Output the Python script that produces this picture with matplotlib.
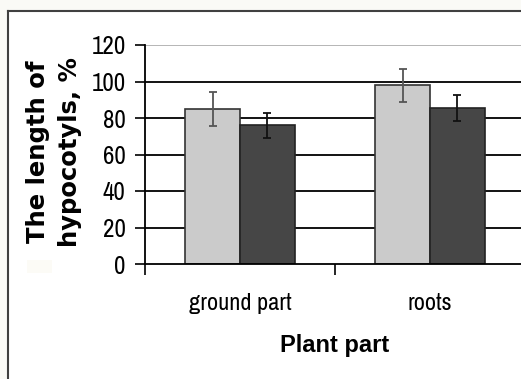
import matplotlib
matplotlib.use("Agg")
import matplotlib.pyplot as plt
from matplotlib.patches import Rectangle
from matplotlib.lines import Line2D
import numpy as np

categories = ["ground part", "roots"]
light_values = [85, 98]
light_err = [9.5, 9]
dark_values = [76, 85.5]
dark_err = [7, 7]
y_ticks = [0, 20, 40, 60, 80, 100, 120]

W, H = 521, 379
fig = plt.figure(figsize=(W / 100, H / 100), dpi=100)
fig.patch.set_facecolor("#fafaf6")


def fx(px):
    return px / W


def fy(py):
    # pixel row from the top -> figure fraction
    return 1 - py / H


# white panel with a dark frame (cropped at the right and bottom)
fig.add_artist(Rectangle((fx(8), 0), 1, fy(11), transform=fig.transFigure,
                         facecolor="white", edgecolor="none", zorder=0))
fig.add_artist(Rectangle((fx(27), fy(273)), fx(25), 13 / H, transform=fig.transFigure,
                         facecolor="#fcfbf6", edgecolor="none", zorder=0))
fig.add_artist(Line2D([fx(8), fx(8)], [0, fy(11)], transform=fig.transFigure,
                      color="#404040", lw=1.5))
fig.add_artist(Line2D([fx(8), 1], [fy(11), fy(11)], transform=fig.transFigure,
                      color="#404040", lw=1.5))

ax = fig.add_axes([fx(145), fy(264), 376 / W, 219 / H])
ax.set_facecolor("none")

narrow = ["Archivo Narrow", "Liberation Sans", "DejaVu Sans"]

x = np.arange(len(categories))
bw = 0.289
ax.bar(x - bw / 2, light_values, bw, color="#cbcbcb", edgecolor="#333333", lw=1.2, zorder=3)
ax.bar(x + bw / 2, dark_values, bw, color="#464646", edgecolor="#222222", lw=1.2, zorder=3)
ax.errorbar(x - bw / 2, light_values, yerr=light_err, fmt="none", ecolor="#555555",
            elinewidth=1.3, capsize=2.7, capthick=1.3, zorder=4)
ax.errorbar(x + bw / 2, dark_values, yerr=dark_err, fmt="none", ecolor="#111111",
            elinewidth=1.3, capsize=2.7, capthick=1.3, zorder=4)

for t in y_ticks[1:-1]:
    ax.axhline(t, color="black", lw=1.3, zorder=1)
ax.axhline(y_ticks[-1], color="#b0b0b0", lw=1.3, zorder=1)

ax.set_xlim(-0.5, -0.5 + 376 / 190)
ax.set_ylim(0, 120)
ax.set_yticks(y_ticks)
ax.set_yticklabels([str(t) for t in y_ticks], family=narrow, fontsize=18)
ax.set_xticks([-0.5, 0.5])
ax.set_xticklabels([])
ax.set_xticks(x, minor=True)
ax.set_xticklabels(categories, minor=True, family=narrow, fontsize=17.5)
ax.tick_params(axis="x", which="minor", length=0, pad=21)
ax.tick_params(axis="x", which="major", length=8, width=1.2, direction="out")
ax.tick_params(axis="y", length=7, width=1.2, direction="out", pad=7)

for s in ["top", "right"]:
    ax.spines[s].set_visible(False)
for s in ["left", "bottom"]:
    ax.spines[s].set_linewidth(1.3)
    ax.spines[s].set_zorder(5)

fig.text(fx(335), fy(352), "Plant part", ha="center", va="baseline",
         fontsize=17, fontweight="bold", family="Liberation Sans")
fig.text(fx(45), fy(152), "The length of", ha="center", va="baseline",
         rotation=90, rotation_mode="anchor", fontsize=17.5, fontweight="bold",
         family="DejaVu Sans")
fig.text(fx(76.5), fy(152), "hypocotyls, %", ha="center", va="baseline",
         rotation=90, rotation_mode="anchor", fontsize=17.5, fontweight="bold",
         family="DejaVu Sans")

fig.savefig("out.png", dpi=100, facecolor=fig.get_facecolor())
